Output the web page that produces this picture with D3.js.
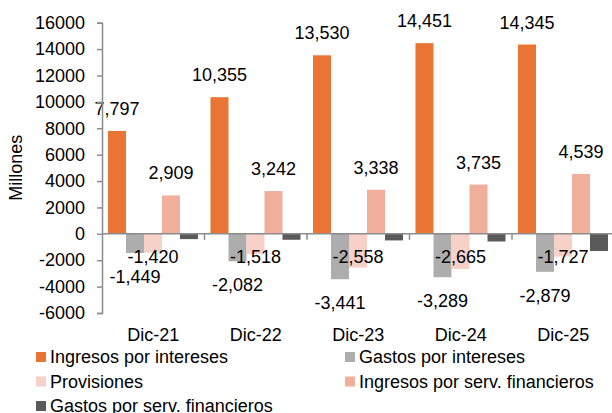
<!DOCTYPE html>
<html>
  <head>
    <meta charset="utf-8">
    <script src="https://d3js.org/d3.v7.min.js"></script>
    <style>
      body { margin: 0; background: #fff; }
      text { font-family: "Liberation Sans", Arial, sans-serif; fill: #000; }
    </style>
  </head>
  <body>
    <script>

      // data
      var categories = ["Dic-21", "Dic-22", "Dic-23", "Dic-24", "Dic-25"]
      var series_names = ["Ingresos por intereses", "Gastos por intereses", "Provisiones",
                          "Ingresos por serv. financieros", "Gastos por serv. financieros"]
      var ingresos_intereses = [7797, 10355, 13530, 14451, 14345]
      var gastos_intereses = [-1449, -2082, -3441, -3289, -2879]
      var provisiones = [-1420, -1518, -2558, -2665, -1727]
      var ingresos_serv = [2909, 3242, 3338, 3735, 4539]
      var gastos_serv = [-400, -450, -500, -580, -1300]
      var y_ticks = [-6000, -4000, -2000, 0, 2000, 4000, 6000, 8000, 10000, 12000, 14000, 16000]

      var colors = ["#E97434", "#ADADAD", "#F7D0C7", "#F1AF9B", "#5A5A5A"]
      var values = [ingresos_intereses, gastos_intereses, provisiones, ingresos_serv, gastos_serv]

      // chart size and plot area
      var w = 612
      var h = 413
      var plot_left = 102
      var plot_right = 614.5
      var plot_top = 22.7
      var plot_bottom = 313

      var svg = d3.select("body")
        .append("svg")
        .attr("width", w)
        .attr("height", h)

      // scales
      var x0 = d3.scaleBand()
        .domain(categories)
        .range([plot_left, plot_right])

      var x1 = d3.scaleBand()
        .domain(d3.range(series_names.length))
        .range([6, x0.bandwidth() - 6.5])

      var y = d3.scaleLinear()
        .domain([-6000, 16000])
        .range([plot_bottom, plot_top])

      // format with plain hyphen
      function fmt(v) {
        return (v < 0 ? "-" : "") + d3.format(",")(Math.abs(v))
      }

      // bars
      series_names.forEach(function(name, s) {
        svg.append("g")
          .selectAll("rect")
          .data(values[s])
          .enter()
          .append("rect")
          .attr("x", function(d, i) { return x0(categories[i]) + x1(s) })
          .attr("y", function(d) { return y(Math.max(0, d)) })
          .attr("width", x1.bandwidth())
          .attr("height", function(d) { return Math.abs(y(d) - y(0)) })
          .attr("fill", colors[s])
      })

      // data labels
      function labels(s, ypos) {
        svg.append("g")
          .selectAll("text")
          .data(values[s])
          .enter()
          .append("text")
          .attr("x", function(d, i) { return x0(categories[i]) + x1(s) + x1.bandwidth() / 2 })
          .attr("y", ypos)
          .attr("text-anchor", "middle")
          .attr("dominant-baseline", "central")
          .style("font-size", "18px")
          .text(fmt)
      }
      labels(0, function(d) { return y(d) - 22 })
      labels(1, function(d) { return y(d) + 24 })
      labels(2, function(d) { return y(-1750) })
      labels(3, function(d) { return y(d) - 22 })

      // y axis
      var y_axis = svg.append("g")
        .attr("transform", "translate(" + plot_left + ",0)")
        .call(d3.axisLeft(y).tickValues(y_ticks).tickSize(5).tickPadding(12)
          .tickFormat(function(d) { return String(d) }))
      y_axis.select(".domain").attr("stroke", "#8C8C8C").attr("stroke-width", 1.5)
      y_axis.selectAll(".tick line").attr("stroke", "#8C8C8C").attr("stroke-width", 1.5)
      y_axis.selectAll("text").style("font-size", "18px").attr("fill", "#000")
        .attr("font-family", null)

      // x axis at zero
      svg.append("line")
        .attr("x1", plot_left).attr("x2", w)
        .attr("y1", y(0)).attr("y2", y(0))
        .attr("stroke", "#8C8C8C").attr("stroke-width", 1.5)

      svg.append("g")
        .selectAll("line")
        .data(categories.slice(1))
        .enter()
        .append("line")
        .attr("x1", function(d) { return x0(d) })
        .attr("x2", function(d) { return x0(d) })
        .attr("y1", y(0))
        .attr("y2", y(0) + 6)
        .attr("stroke", "#8C8C8C").attr("stroke-width", 1.5)

      // category labels
      svg.append("g")
        .selectAll("text")
        .data(categories)
        .enter()
        .append("text")
        .attr("x", function(d) { return x0(d) + x0.bandwidth() / 2 })
        .attr("y", 335)
        .attr("text-anchor", "middle")
        .attr("dominant-baseline", "central")
        .style("font-size", "18px")
        .text(function(d) { return d })

      // y title
      svg.append("text")
        .attr("transform", "translate(16," + (plot_top + plot_bottom) / 2 + ") rotate(-90)")
        .attr("text-anchor", "middle")
        .attr("dominant-baseline", "central")
        .style("font-size", "18px")
        .text("Millones")

      // legend
      var legend = svg.append("g")
        .selectAll("g")
        .data(series_names)
        .enter()
        .append("g")
        .attr("transform", function(d, i) {
          return "translate(" + (i % 2 == 0 ? 36 : 345) + "," + (357 + Math.floor(i / 2) * 24.5) + ")"
        })

      legend.append("rect")
        .attr("x", 0).attr("y", -5)
        .attr("width", 10).attr("height", 10)
        .attr("fill", function(d, i) { return colors[i] })

      legend.append("text")
        .attr("x", 14)
        .attr("dominant-baseline", "central")
        .style("font-size", "18px")
        .text(function(d) { return d })

    </script>
  </body>
</html>
